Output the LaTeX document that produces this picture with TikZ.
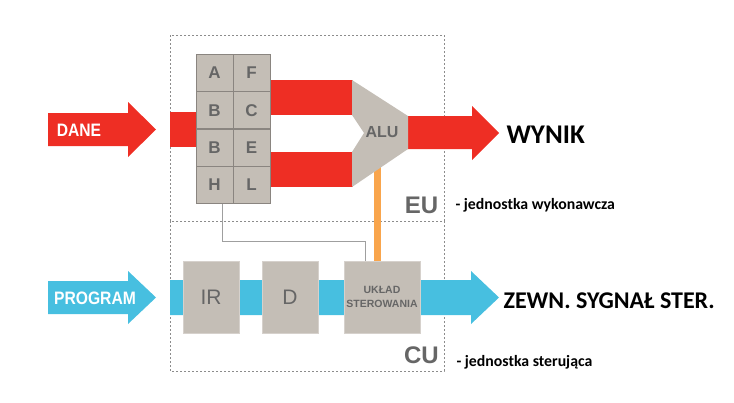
\documentclass[tikz,border=0pt]{standalone}
\usepackage{fontspec}
\setmainfont{Liberation Sans}
\newfontfamily\calibri{Carlito}
\newfontfamily\waski[FakeStretch=0.87]{Liberation Sans}
\usetikzlibrary{positioning}
\definecolor{czerwony}{HTML}{EE2E24}
\definecolor{niebieski}{HTML}{47BFE0}
\definecolor{szary}{HTML}{C4BEB6}
\definecolor{krawedz}{HTML}{8A8580}
\definecolor{tekst}{HTML}{666666}
\definecolor{pomaranczowy}{HTML}{F9A54C}
\tikzset{
  ramka/.style={draw=gray!90, dash pattern=on 2pt off 2pt, line width=0.7pt},
  rejestr/.style={draw=krawedz, line width=1pt, fill=szary, minimum size=37pt, inner sep=0pt,
    text=tekst, font=\bfseries\fontsize{17}{17}\selectfont},
  blok/.style={fill=szary, draw=szary!70!white, line width=0.6pt, minimum height=72pt, inner sep=0pt,
    text=tekst},
  etykieta/.style={anchor=base, text=tekst, font=\bfseries\fontsize{24}{24}\selectfont},
  opis/.style={anchor=base west, font=\calibri\bfseries\fontsize{15.8}{16}\selectfont},
  wynik/.style={anchor=base west, font=\calibri\bfseries\fontsize{27}{27}\selectfont},
  napis/.style={anchor=base, text=white, font=\waski\bfseries\fontsize{18}{18}\selectfont},
  linia/.style={draw=gray!75, line width=1pt},
}
\begin{document}
\begin{tikzpicture}[x=1pt, y=-1pt, line join=miter]
  \useasboundingbox (0,0) rectangle (734,402);
  % ramki EU i CU
  \draw[ramka] (170,35) rectangle (444,221);
  \draw[ramka] (170,221) rectangle (444,371);
  % strzalki wejsciowe
  \fill[czerwony] (48,113)--(128,113)--(128,102)--(156,129.5)--(128,157)--(128,146)--(48,146)--cycle;
  \fill[niebieski] (48,281)--(128,281)--(128,271)--(156,297.5)--(128,324)--(128,314)--(48,314)--cycle;
  \node[napis] (dane) at (79,136) {DANE};
  \node[napis] (program) at (95,304) {PROGRAM};
  % szyny danych
  \fill[czerwony] (170,112) rectangle (196,147);
  \fill[czerwony] (270,80) rectangle (353,115);
  \fill[czerwony] (270,152) rectangle (353,187);
  \fill[czerwony] (407,116)--(472,116)--(472,106)--(499,133)--(472,160)--(472,149)--(407,149)--cycle;
  \fill[niebieski] (170,280)--(471,280)--(471,271)--(499,297.5)--(471,324)--(471,315)--(170,315)--cycle;
  % rejestry
  \foreach \lit [count=\i from 0] in {A,F,B,C,B,E,H,L}{
    \pgfmathtruncatemacro\kol{mod(\i,2)}
    \pgfmathtruncatemacro\wiersz{int(\i/2)}
    \node[rejestr] (r\i) at (214.5+37*\kol, 73+37.25*\wiersz) {\lit};
  }
  % bloki CU
  \node[blok, minimum width=56pt, font=\fontsize{21}{21}\selectfont] (ir) at (211,297) {IR};
  \node[blok, minimum width=56pt, font=\fontsize{21}{21}\selectfont] (dek) at (290,297) {D};
  \node[blok, minimum width=76pt, align=center,
    font=\bfseries\fontsize{10.5}{14}\selectfont] (uklad) at (382,297) {UKŁAD\\STEROWANIA};
  % polaczenia
  \coordinate (aluS) at (377,165);
  \draw[pomaranczowy, line width=7pt] (aluS) -- (aluS |- uklad.north);
  \coordinate (zal) at (365,241);
  \draw[linia] ([xshift=7.5pt]r6.south) |- (zal) -- (zal |- uklad.north);
  % ALU
  \fill[szary] (352,80)--(408,116)--(408,149)--(352,187)--(352,152)--(364,133)--(352,115)--cycle;
  \node[text=tekst, font=\bfseries\fontsize{16}{16}\selectfont] (alu) at (382,132.5) {ALU};
  % opisy
  \node[etykieta] (eu) at (421.5,213) {EU};
  \node[etykieta] (cu) at (421.5,363) {CU};
  \node[opis] (opiseu) at (452,209) {- jednostka wykonawcza};
  \node[opis] (opiscu) at (453,366) {- jednostka sterująca};
  \node[wynik] (wyn) at (503,143) {WYNIK};
  \node[wynik, font=\calibri\bfseries\fontsize{24}{24}\selectfont] (sygnal) at (500,308) {ZEWN. SYGNAŁ STER.};
\end{tikzpicture}
\end{document}
